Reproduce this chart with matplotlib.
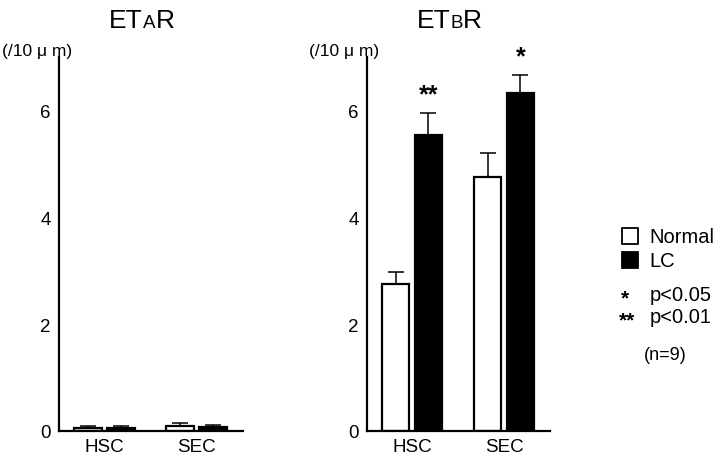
import numpy as np
import matplotlib
matplotlib.use("Agg")
import matplotlib.pyplot as plt
from matplotlib.patches import Rectangle
from matplotlib.offsetbox import TextArea, HPacker, AnnotationBbox

plt.rcParams['font.family'] = ['Liberation Sans', 'DejaVu Sans']

# valeurs
groups = ['HSC', 'SEC']
yticks = [0, 2, 4, 6]

etar_normal = [0.06, 0.10]
etar_normal_err = [0.03, 0.05]
etar_lc = [0.06, 0.07]
etar_lc_err = [0.03, 0.04]

etbr_normal = [2.75, 4.75]
etbr_normal_err = [0.23, 0.46]
etbr_lc = [5.53, 6.32]
etbr_lc_err = [0.42, 0.34]
etbr_stars = ['**', '*']

fig = plt.figure(figsize=(7.2, 4.6), dpi=100)
ax1 = fig.add_axes([0.082, 0.061, 0.2555, 0.813])
ax2 = fig.add_axes([0.5097, 0.061, 0.2543, 0.813])

x = np.arange(len(groups))
w = 0.30
off = 0.178


def draw_panel(ax, normal, nerr, lc, lerr, main, sub, unit_x):
    ax.bar(x - off, normal, w, color='white', edgecolor='black', linewidth=1.6, zorder=2)
    ax.bar(x + off, lc, w, color='black', edgecolor='black', linewidth=1.6, zorder=2)
    ax.errorbar(x - off, normal, yerr=[np.zeros(len(x)), nerr], fmt='none',
                ecolor='black', elinewidth=1.1, capsize=6, capthick=1.1, zorder=1)
    ax.errorbar(x + off, lc, yerr=[np.zeros(len(x)), lerr], fmt='none',
                ecolor='black', elinewidth=1.1, capsize=6, capthick=1.1, zorder=1)
    ax.set_xlim(-0.49, 1.5)
    ax.set_ylim(0, 7)
    ax.set_yticks(yticks)
    ax.set_xticks(x)
    ax.set_xticklabels(groups, fontsize=12)
    ax.tick_params(length=0, labelsize=13.5, pad=6)
    ax.tick_params(axis='x', pad=5)
    for s in ['top', 'right']:
        ax.spines[s].set_visible(False)
    for s in ['left', 'bottom']:
        ax.spines[s].set_linewidth(1.6)
    fig.text(unit_x, 0.887, '(/10 μ m)', fontsize=12.5, ha='center', va='center')
    # titre avec petite capitale
    title = HPacker(children=[TextArea(main[:2], textprops=dict(size=19)),
                              TextArea(sub, textprops=dict(size=13.5)),
                              TextArea(main[2:], textprops=dict(size=19))],
                    align='baseline', pad=0, sep=0)
    ab = AnnotationBbox(title, (0.45, 1.1), xycoords='axes fraction',
                        frameon=False, box_alignment=(0.5, 0.5))
    ax.add_artist(ab)


draw_panel(ax1, etar_normal, etar_normal_err, etar_lc, etar_lc_err, 'ETR', 'A', 0.052)
draw_panel(ax2, etbr_normal, etbr_normal_err, etbr_lc, etbr_lc_err, 'ETR', 'B', 0.4785)

for i, s in enumerate(etbr_stars):
    ax2.text(x[i] + off, etbr_lc[i] + etbr_lc_err[i] + 0.12, s, ha='center',
             va='bottom', fontsize=18, fontweight='bold', clip_on=False)

# légende
fig.patches.append(Rectangle((0.864, 0.467), 0.022, 0.035, transform=fig.transFigure,
                             facecolor='white', edgecolor='black', linewidth=1.3))
fig.patches.append(Rectangle((0.864, 0.416), 0.022, 0.035, transform=fig.transFigure,
                             facecolor='black', edgecolor='black', linewidth=1.3))
fig.text(0.902, 0.483, 'Normal', fontsize=14.5, va='center')
fig.text(0.902, 0.432, 'LC', fontsize=14.5, va='center')
fig.text(0.862, 0.350, '*', fontsize=15, fontweight='bold', va='center')
fig.text(0.902, 0.357, 'p<0.05', fontsize=14.5, va='center')
fig.text(0.859, 0.303, '**', fontsize=15, fontweight='bold', va='center')
fig.text(0.902, 0.309, 'p<0.01', fontsize=14.5, va='center')
fig.text(0.894, 0.228, '(n=9)', fontsize=13, va='center')

fig.savefig('out.png', dpi=100)
